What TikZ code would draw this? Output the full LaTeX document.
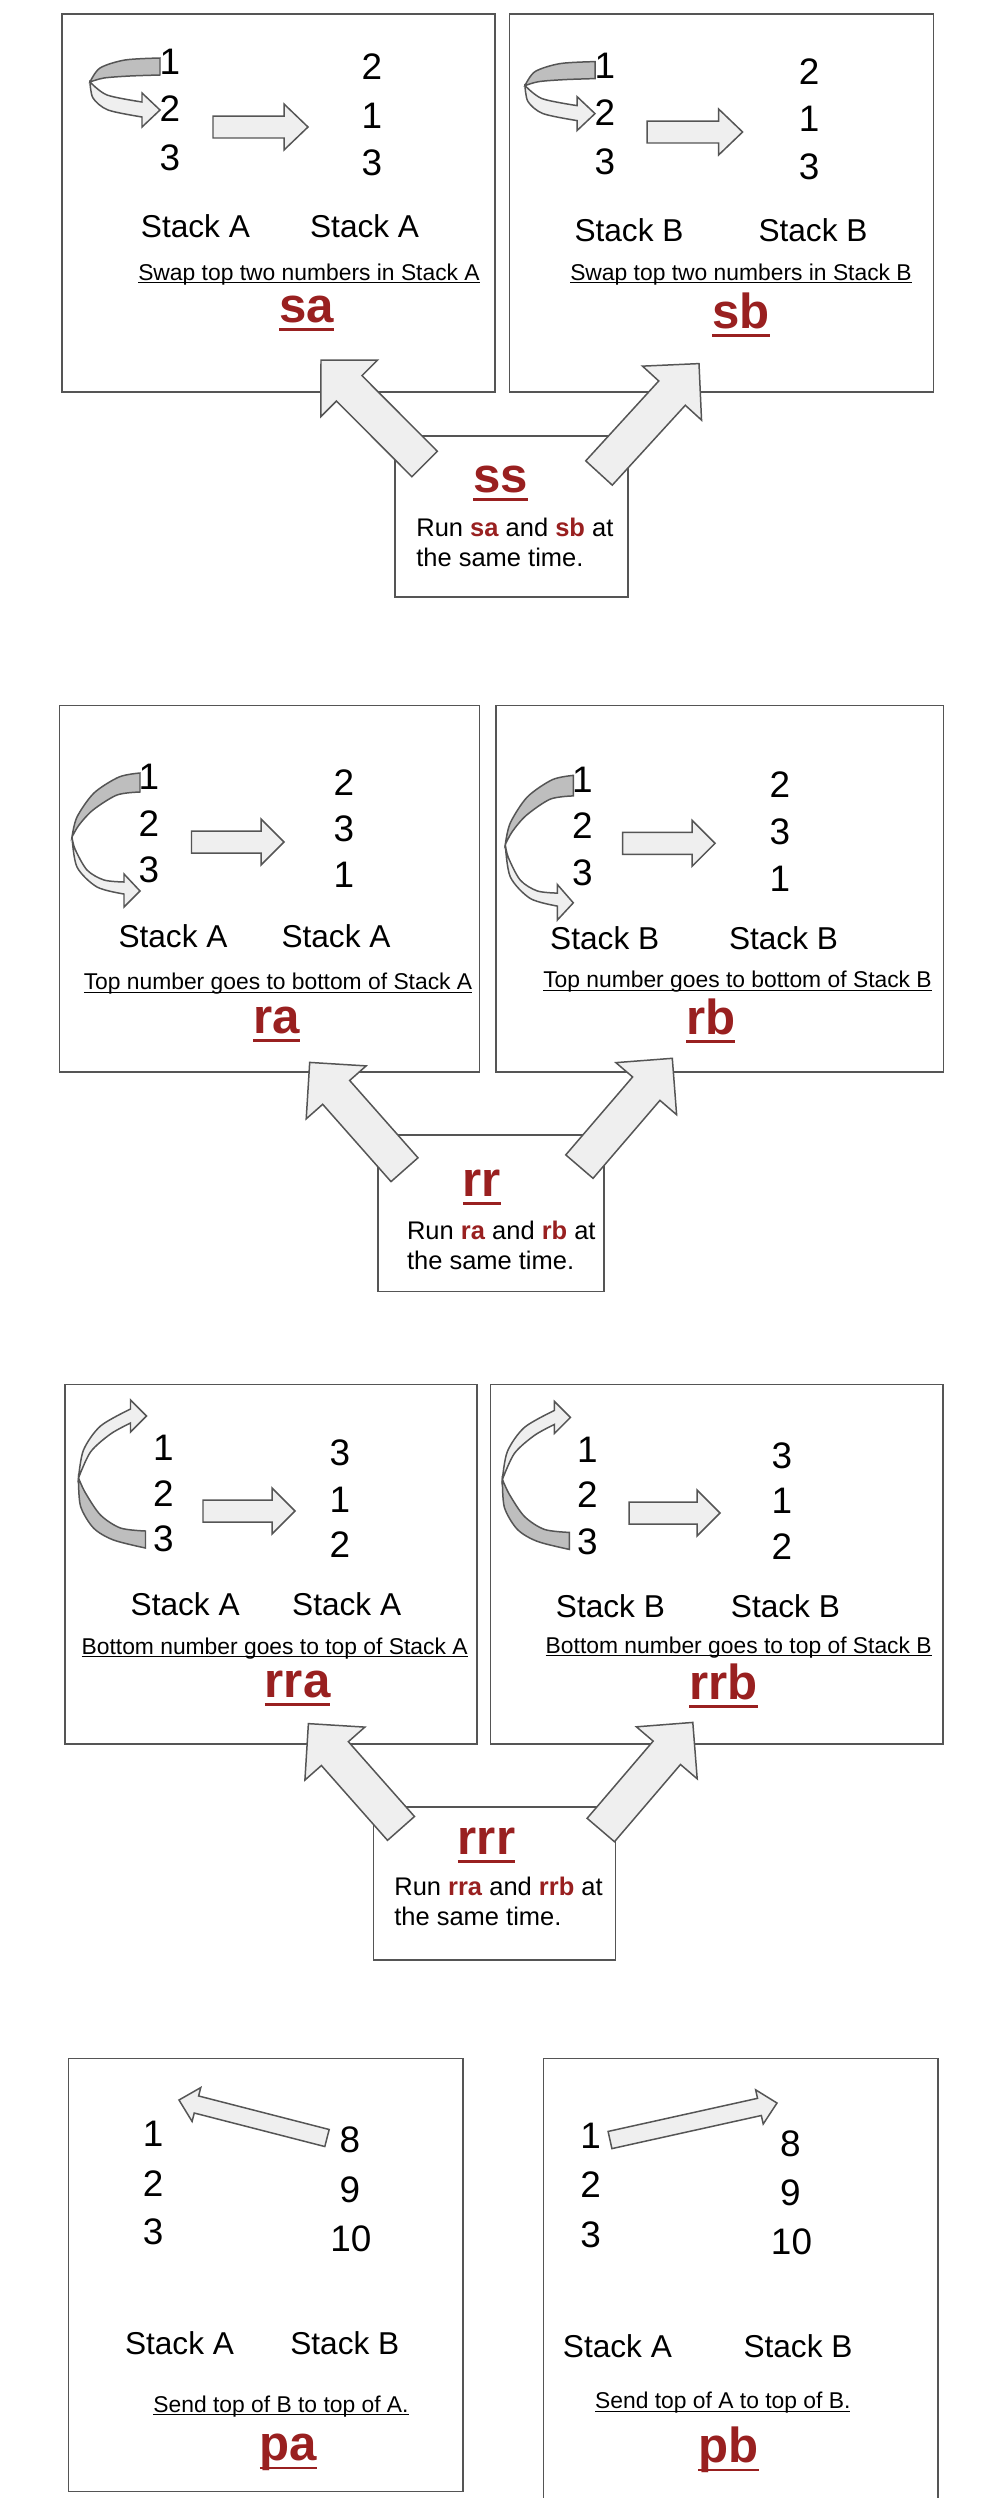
\documentclass[tikz,border=0pt]{standalone}
\usepackage{fontspec}
\setmainfont{Liberation Sans}
\usepackage{xcolor}
\usepackage{tikz}
\usetikzlibrary{calc}

\definecolor{cmdred}{RGB}{153,32,32}
\definecolor{edgegray}{RGB}{85,85,85}
\definecolor{arrowfill}{RGB}{239,239,239}
\definecolor{backgray}{RGB}{190,190,190}

\newsavebox\ulbox
\newcommand{\capul}[1]{\sbox\ulbox{#1}\rlap{\rule[-1.9pt]{\wd\ulbox}{0.6pt}}\usebox\ulbox}
\newcommand{\cmdul}[1]{\sbox\ulbox{#1}\rlap{\rule[-5pt]{\wd\ulbox}{1.6pt}}\usebox\ulbox}
\newcommand{\opname}[1]{\textcolor{cmdred}{\textbf{#1}}}

% tail, tip, half shaft, half head, head length
\newcommand{\fatarrow}[5]{%
  \coordinate (neck) at ($(#2)!#5!(#1)$);
  \draw[blockarrow] ($(#1)!#3!90:(#2)$) -- ($(neck)!#3!90:(#2)$) -- ($(neck)!#4!90:(#2)$) -- (#2)
    -- ($(neck)!#4!-90:(#2)$) -- ($(neck)!#3!-90:(#2)$) -- ($(#1)!#3!-90:(#2)$) -- cycle;}

% curved arrows, placed at the top number of a stack
\newcommand{\swaparrow}[1]{%
  \begin{scope}[shift={(#1.center)}]
  \draw[backface] plot[smooth] coordinates {(-10,-4) (-45,-2) (-70,6) (-80,20)}
    -- plot[smooth] coordinates {(-80,20) (-66,16) (-40,14) (-10,13)} -- cycle;
  \draw[blockarrow] plot[smooth] coordinates {(-80,20) (-77,36) (-62,48) (-28,55)}
    -- (-28,65) -- (-10,48) -- (-28,31) -- (-28,40)
    -- plot[smooth] coordinates {(-28,40) (-63,33) (-80,20)} -- cycle;
  \end{scope}}
\newcommand{\rotarrow}[2]{%
  \begin{scope}[shift={(#1.center)},yscale=#2]
  \draw[backface] plot[smooth] coordinates {(-9,-4) (-30,0) (-55,16) (-72,40) (-77,60)}
    -- plot[smooth] coordinates {(-77,60) (-70,48) (-56,33) (-32,18) (-9,15)} -- cycle;
  \draw[blockarrow] plot[smooth] coordinates {(-77,60) (-72,90) (-52,110) (-25,117)}
    -- (-25,130) -- (-9,114) -- (-25,97) -- (-25,105)
    -- plot[smooth] coordinates {(-25,105) (-45,103) (-62,93) (-74,72) (-77,60)} -- cycle;
  \end{scope}}
\newcommand{\revrotarrow}[1]{%
  \begin{scope}[shift={(#1.center)}]
  \draw[backface] plot[smooth] coordinates {(-85,30) (-83,58) (-70,80) (-50,92) (-18,100)}
    -- (-18,83) -- plot[smooth] coordinates {(-18,83) (-43,80) (-63,67) (-78,45) (-85,30)} -- cycle;
  \draw[blockarrow] plot[smooth] coordinates {(-85,30) (-80,2) (-63,-22) (-33,-39)}
    -- (-33,-48) -- (-17,-32) -- (-33,-16) -- (-33,-25)
    -- plot[smooth] coordinates {(-33,-25) (-53,-14) (-73,4) (-85,30)} -- cycle;
  \end{scope}}

\begin{document}
\begin{tikzpicture}[x=0.02cm,y=-0.02cm,
  panel/.style={rectangle,draw=edgegray,line width=0.85pt,inner sep=0},
  num/.style={font=\fontsize{21}{21}\selectfont,inner sep=0},
  stk/.style={font=\fontsize{18}{18}\selectfont,inner sep=0},
  capt/.style={font=\fontsize{13}{13}\selectfont,inner sep=0,anchor=base},
  ttl/.style={font=\fontsize{28}{28}\selectfont\bfseries,text=cmdred,inner sep=0,anchor=base},
  runtxt/.style={font=\fontsize{14.5}{17}\selectfont,align=left,inner sep=0,anchor=north west},
  blockarrow/.style={draw=edgegray,fill=arrowfill,line width=0.85pt},
  backface/.style={draw=edgegray,fill=backgray,line width=0.85pt}]
\useasboundingbox[fill=white] (0,0) rectangle (996,2498);

% swap
\node (SA)[panel,minimum width=8.66cm,minimum height=7.56cm] at (278.5,203) {};
\node (SB)[panel,minimum width=8.48cm,minimum height=7.56cm] at (721.5,203) {};
\node (SS)[panel,minimum width=4.66cm,minimum height=3.22cm] at (511.5,516.5) {};

\node (SA1)[num] at (170,62) {1};
\node (SA2)[num] at (170,109) {2};
\node (SA3)[num] at (170,158) {3};
\node (SA4)[num] at (372,67) {2};
\node (SA5)[num] at (372,116) {1};
\node (SA6)[num] at (372,163) {3};
\node (SAl)[stk] at (195.4,225.7) {Stack A};
\node (SAr)[stk] at (364.6,225.7) {Stack A};
\node (SAc)[capt] at (309,280) {\capul{Swap top two numbers in Stack A}};
\node (SAt)[ttl] at (306.5,322) {\cmdul{sa}};

\node (SB1)[num] at (605,65.6) {1};
\node (SB2)[num] at (605,113) {2};
\node (SB3)[num] at (605,162) {3};
\node (SB4)[num] at (809,71.5) {2};
\node (SB5)[num] at (809,119) {1};
\node (SB6)[num] at (809,167) {3};
\node (SBl)[stk] at (629,229.7) {Stack B};
\node (SBr)[stk] at (813,229.7) {Stack B};
\node (SBc)[capt] at (741,280) {\capul{Swap top two numbers in Stack B}};
\node (SBt)[ttl] at (741,328) {\cmdul{sb}};

\node (SSt)[ttl] at (500.5,492) {\cmdul{ss}};
\node (SSr)[runtxt] at (416,518) {Run \opname{sa} and \opname{sb} at\\the same time.};

\swaparrow{SA1}
\swaparrow{SB1}
\coordinate (saH1) at (213,127); \coordinate (saH2) at (308,127);
\coordinate (sbH1) at (647,132); \coordinate (sbH2) at (742.6,132);
\fatarrow{saH1}{saH2}{0.22cm}{0.46cm}{0.48cm}
\fatarrow{sbH1}{sbH2}{0.22cm}{0.46cm}{0.48cm}

\coordinate (ssL) at (424.6,464); \coordinate (saT) at (321,360);
\coordinate (ssR) at (599,473); \coordinate (sbT) at (699,363.6);
\fatarrow{ssL}{saT}{0.36cm}{0.8cm}{0.8cm}
\fatarrow{ssR}{sbT}{0.36cm}{0.8cm}{0.8cm}

% rotate
\node (RA)[panel,minimum width=8.4cm,minimum height=7.33cm] at (269.5,888.6) {};
\node (RB)[panel,minimum width=8.95cm,minimum height=7.33cm] at (719.9,888.6) {};
\node (RR)[panel,minimum width=4.52cm,minimum height=3.13cm] at (491,1213) {};

\node (RA1)[num] at (149,777) {1};
\node (RA2)[num] at (149,824) {2};
\node (RA3)[num] at (149,870) {3};
\node (RA4)[num] at (344,783) {2};
\node (RA5)[num] at (344,829) {3};
\node (RA6)[num] at (344,875) {1};
\node (RAl)[stk] at (173,936) {Stack A};
\node (RAr)[stk] at (336,936) {Stack A};
\node (RAc)[capt] at (278,989.5) {\capul{Top number goes to bottom of Stack A}};
\node (RAt)[ttl] at (276.6,1033) {\cmdul{ra}};

\node (RB1)[num] at (582.3,779.7) {1};
\node (RB2)[num] at (582.3,825.6) {2};
\node (RB3)[num] at (582.3,872.8) {3};
\node (RB4)[num] at (780,784.6) {2};
\node (RB5)[num] at (780,831.8) {3};
\node (RB6)[num] at (780,879) {1};
\node (RBl)[stk] at (604.7,938.5) {Stack B};
\node (RBr)[stk] at (783.5,938.5) {Stack B};
\node (RBc)[capt] at (737.5,987.5) {\capul{Top number goes to bottom of Stack B}};
\node (RBt)[ttl] at (710.7,1034) {\cmdul{rb}};

\node (RRt)[ttl] at (482,1196) {\cmdul{rr}};
\node (RRr)[runtxt] at (406.7,1221) {Run \opname{ra} and \opname{rb} at\\the same time.};

\rotarrow{RA1}{1}
\rotarrow{RB1}{1.08}
\coordinate (raH1) at (191.5,842); \coordinate (raH2) at (284,842);
\coordinate (rbH1) at (622.5,843.3); \coordinate (rbH2) at (715,843.3);
\fatarrow{raH1}{raH2}{0.22cm}{0.46cm}{0.46cm}
\fatarrow{rbH1}{rbH2}{0.22cm}{0.46cm}{0.46cm}

\coordinate (rrL) at (404.5,1169.7); \coordinate (raT) at (309.7,1062.4);
\coordinate (rrR) at (579.4,1166.6); \coordinate (rbT) at (672.3,1058.3);
\fatarrow{rrL}{raT}{0.36cm}{0.8cm}{0.8cm}
\fatarrow{rrR}{rbT}{0.36cm}{0.8cm}{0.8cm}

% reverse rotate
\node (RRA)[panel,minimum width=8.24cm,minimum height=7.19cm] at (271,1564.3) {};
\node (RRB)[panel,minimum width=9.05cm,minimum height=7.19cm] at (716.7,1564.3) {};
\node (RRR)[panel,minimum width=4.84cm,minimum height=3.06cm] at (494.5,1883.5) {};

\node (RRA1)[num] at (163.5,1448) {1};
\node (RRA2)[num] at (163.5,1494) {2};
\node (RRA3)[num] at (163.5,1539) {3};
\node (RRA4)[num] at (340,1453) {3};
\node (RRA5)[num] at (340,1499.5) {1};
\node (RRA6)[num] at (340,1545) {2};
\node (RRAl)[stk] at (185.2,1604.4) {Stack A};
\node (RRAr)[stk] at (346.7,1604.4) {Stack A};
\node (RRAc)[capt] at (274.6,1654) {\capul{Bottom number goes to top of Stack A}};
\node (RRAt)[ttl] at (297.6,1697) {\cmdul{rra}};

\node (RRB1)[num] at (587.4,1449.4) {1};
\node (RRB2)[num] at (587.4,1495) {2};
\node (RRB3)[num] at (587.4,1542) {3};
\node (RRB4)[num] at (782,1455.4) {3};
\node (RRB5)[num] at (782,1501) {1};
\node (RRB6)[num] at (782,1546.8) {2};
\node (RRBl)[stk] at (610.4,1606.4) {Stack B};
\node (RRBr)[stk] at (785.4,1606.4) {Stack B};
\node (RRBc)[capt] at (738.7,1653) {\capul{Bottom number goes to top of Stack B}};
\node (RRBt)[ttl] at (723.4,1699) {\cmdul{rrb}};

\node (RRRt)[ttl] at (486.5,1854.5) {\cmdul{rrr}};
\node (RRRr)[runtxt] at (394,1877) {Run \opname{rra} and \opname{rrb} at\\the same time.};

\revrotarrow{RRA1}
\revrotarrow{RRB1}
\coordinate (rraH1) at (203,1511); \coordinate (rraH2) at (295,1511);
\coordinate (rrbH1) at (629,1513); \coordinate (rrbH2) at (720,1513);
\fatarrow{rraH1}{rraH2}{0.22cm}{0.46cm}{0.46cm}
\fatarrow{rrbH1}{rrbH2}{0.22cm}{0.46cm}{0.46cm}

\coordinate (rrrL) at (401,1828.4); \coordinate (rraT) at (308.4,1723.6);
\coordinate (rrrR) at (600.8,1830); \coordinate (rrbT) at (692.8,1722.4);
\fatarrow{rrrL}{rraT}{0.36cm}{0.8cm}{0.8cm}
\fatarrow{rrrR}{rrbT}{0.36cm}{0.8cm}{0.8cm}

% push
\node (PA)[panel,minimum width=7.89cm,minimum height=8.67cm] at (265.7,2275) {};
\node (PB)[panel,minimum width=7.89cm,minimum height=9.23cm] at (740.7,2289) {};

\node (PA1)[num] at (153.2,2133.3) {1};
\node (PA2)[num] at (153.2,2183.3) {2};
\node (PA3)[num] at (153.2,2231.7) {3};
\node (PA4)[num] at (350,2140) {8};
\node (PA5)[num] at (350,2189.3) {9};
\node (PA6)[num] at (351,2238.3) {10};
\node (PAl)[stk] at (179.5,2343.3) {Stack A};
\node (PAr)[stk] at (344.8,2343.3) {Stack B};
\node (PAc)[capt] at (281,2412) {\capul{Send top of B to top of A.}};
\node (PAt)[ttl] at (288.6,2460.5) {\cmdul{pa}};

\node (PB1)[num] at (590.6,2136) {1};
\node (PB2)[num] at (590.6,2185) {2};
\node (PB3)[num] at (590.6,2235) {3};
\node (PB4)[num] at (790.5,2143.3) {8};
\node (PB5)[num] at (790.5,2192.7) {9};
\node (PB6)[num] at (791.5,2241.7) {10};
\node (PBl)[stk] at (617.4,2346) {Stack A};
\node (PBr)[stk] at (798,2346) {Stack B};
\node (PBc)[capt] at (722.8,2408.7) {\capul{Send top of A to top of B.}};
\node (PBt)[ttl] at (728.5,2462.5) {\cmdul{pb}};

\coordinate (paH1) at (327,2138); \coordinate (paH2) at (179,2100);
\coordinate (pbH1) at (610,2140); \coordinate (pbH2) at (777,2103);
\fatarrow{paH1}{paH2}{0.176cm}{0.35cm}{0.36cm}
\fatarrow{pbH1}{pbH2}{0.176cm}{0.35cm}{0.36cm}
\end{tikzpicture}
\end{document}
